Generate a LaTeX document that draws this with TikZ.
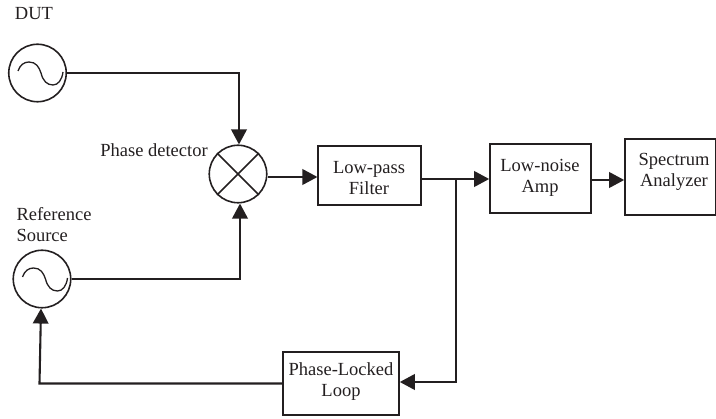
\documentclass[tikz,border=0pt]{standalone}
\usepackage{fontspec}
\setmainfont{Liberation Serif}
\usetikzlibrary{arrows.meta}
\definecolor{ink}{HTML}{231F20}
\tikzset{
  x=1pt,y=-1pt,
  boxnode/.style={draw=ink,line width=1.6pt,rectangle,inner sep=0pt},
  roundnode/.style={draw=ink,line width=1.6pt,circle,inner sep=0pt,minimum size=57.5pt},
  txt/.style={draw=none,text=ink,inner sep=0pt,align=center,font=\fontsize{18.5}{21}\selectfont},
  wire/.style={draw=ink,line width=2.1pt,line join=miter},
  flow/.style={wire,-{Triangle[length=15pt,width=15.5pt]}},
  wave/.style={draw=ink,line width=1.3pt},
  crossline/.style={draw=ink,line width=1.6pt}
}
\newcommand{\sinewave}[1]{%
  \draw[wave,shift={(#1.center)}] (-19.5,-2) .. controls (-17.5,-8) and (-13.5,-11) .. (-8.5,-11)
    .. controls (-1.5,-11) and (1.5,-6) .. (3.5,0)
    .. controls (5.5,8) and (9.5,12) .. (15.5,12)
    .. controls (20.5,12) and (24.5,7) .. (25.5,-1);}
\begin{document}
\begin{tikzpicture}
\path[use as bounding box] (0,0) rectangle (716,419);
% oscillators and mixer
\node[roundnode] (dut) at (37.5,73) {};
\node[roundnode] (ref) at (42,279) {};
\node[roundnode] (mix) at (238,174) {};
\sinewave{dut}
\sinewave{ref}
\draw[crossline] (mix.45) -- (mix.225) (mix.135) -- (mix.315);
% boxes
\node[boxnode,minimum width=102.5pt,minimum height=59pt] (lpf) at (369.5,175.5) {};
\node[boxnode,minimum width=101pt,minimum height=69pt] (lna) at (540.5,178.5) {};
\node[boxnode,minimum width=91pt,minimum height=76pt] (sa) at (670.5,177) {};
\node[boxnode,minimum width=116pt,minimum height=63pt] (pll) at (341,383.5) {};
% texts
\node[txt] (tdut) at (34,14) {DUT};
\node[txt] (tpd) at (154,150) {Phase detector};
\node[txt,align=left] (tref) at (54,225) {Reference\\Source};
\node[txt] (tlpf) at (369,178.5) {Low-pass\\Filter};
\node[txt] (tlna) at (540,177.5) {Low-noise\\Amp};
\node[txt] (tsa) at (674,172) {Spectrum\\Analyzer};
\node[txt] (tpll) at (341,382) {Phase-Locked\\Loop};
% connectors
\coordinate (branch) at ([yshift=-3.5pt]lpf.east -| 456,0);
\draw[flow] (dut.east) -| ([xshift=1pt]mix.north);
\draw[flow] (ref.east) -| ([xshift=2pt]mix.south);
\draw[flow] ([yshift=-3pt]mix.east) -- ([yshift=-3pt]mix.east -| lpf.west);
\draw[flow] ([yshift=-3.5pt]lpf.east) -- ([yshift=-3.5pt]lpf.east -| lna.west);
\draw[flow] ([yshift=-1.5pt]lna.east) -- ([yshift=-1.5pt]lna.east -| sa.west);
\draw[flow] (branch) |- ([yshift=1.5pt]pll.east);
\draw[flow] (pll.west) -- ([xshift=-2.5pt]pll.west -| ref.south) -- ([xshift=-1pt]ref.south);
\end{tikzpicture}
\end{document}
